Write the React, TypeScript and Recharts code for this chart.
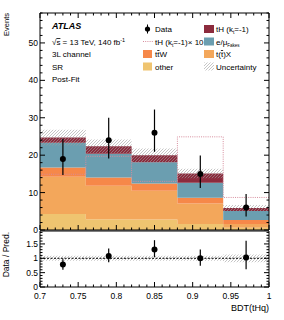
import React from "react";
import {
  ComposedChart,
  Area,
  Line,
  Scatter,
  ErrorBar,
  XAxis,
  YAxis,
  ReferenceLine,
} from "recharts";

// ---------- data ----------
const binEdges = [0.7, 0.76, 0.82, 0.88, 0.94, 1.0];
const binCenters = [0.73, 0.79, 0.85, 0.91, 0.97];

const otherVals = [4.3, 2.9, 2.8, 1.6, 0.6];
const ttXVals = [9.9, 8.9, 7.7, 5.5, 1.0];
const ttWVals = [2.5, 2.2, 1.9, 1.5, 1.1];
const fakesVals = [6.6, 6.4, 5.7, 4.0, 2.4];
const tHVals = [1.4, 2.0, 1.9, 2.5, 0.8];
const uncLow = [22.6, 20.5, 18.2, 13.8, 5.1];
const uncHigh = [26.8, 24.2, 21.8, 16.4, 6.7];
const tH10Vals = [14.9, 19.7, 13.0, 24.9, 8.7];

const dataVals = [19, 24, 26, 15, 6];
const dataErrLo = [4.3, 4.9, 5.1, 3.8, 2.4];
const dataErrHi = [5.4, 6.0, 6.2, 4.9, 3.6];

const ratioVals = [0.78, 1.08, 1.31, 1.0, 1.03];
const ratioErrLo = [0.18, 0.22, 0.27, 0.26, 0.41];
const ratioErrHi = [0.19, 0.26, 0.32, 0.31, 0.58];
const ratioUnc = [0.085, 0.085, 0.09, 0.086, 0.136];

const xMajorTicks = [0.7, 0.75, 0.8, 0.85, 0.9, 0.95, 1.0];
const mainYMajorTicks = [0, 10, 20, 30, 40, 50];
const ratioYMajorTicks = [0, 0.5, 1, 1.5];

// minor tick positions
const xTicks: number[] = [];
for (let i = 0; i <= 30; i++) xTicks.push(Math.round((0.7 + i * 0.01) * 1000) / 1000);
const mainYTicks: number[] = [];
for (let i = 0; i <= 29; i++) mainYTicks.push(i * 2);
const ratioYTicks: number[] = [];
for (let i = 0; i <= 19; i++) ratioYTicks.push(Math.round(i * 10) / 100);

// ---------- tables built from the arrays ----------
const histRows = binEdges.map((x, i) => {
  const j = Math.min(i, binCenters.length - 1);
  return {
    x,
    other: otherVals[j],
    ttX: ttXVals[j],
    ttW: ttWVals[j],
    fakes: fakesVals[j],
    tH: tHVals[j],
    band: [uncLow[j], uncHigh[j]],
    th10: tH10Vals[j],
  };
});
const dataRows = binCenters.map((x, i) => ({
  x,
  y: dataVals[i],
  err: [dataErrLo[i], dataErrHi[i]],
}));
const ratioBandRows = binEdges.map((x, i) => {
  const j = Math.min(i, binCenters.length - 1);
  return { x, band: [1 - ratioUnc[j], 1 + ratioUnc[j]] };
});
const ratioRows = binCenters.map((x, i) => ({
  x,
  y: ratioVals[i],
  err: [ratioErrLo[i], ratioErrHi[i]],
}));

// ---------- styling ----------
const FONT = "'Liberation Sans', Arial, Helvetica, sans-serif";
const C_OTHER = "#efc470";
const C_TTX = "#f3a75b";
const C_TTW = "#f68849";
const C_FAKES = "#6b9eb0";
const C_TH = "#8c2b3d";
const C_TH10 = "#d68c9c";

const near = (v: number, arr: number[]) => arr.some((a) => Math.abs(a - v) < 1e-6);
const fmt = (v: number) => String(Math.round(v * 1000) / 1000);

// dir: +1 tick goes down/right, -1 up/left
const mkXTick = (dir: number, label: boolean) => (props: any) => {
  const { x, y, payload } = props;
  const v = payload.value;
  const major = near(v, xMajorTicks);
  const len = major ? 5 : 2.5;
  return (
    <g>
      <line x1={x} x2={x} y1={y} y2={y + dir * len} stroke="#000" strokeWidth={1} />
      {label && major && (
        <text x={x} y={y + 11.5} textAnchor="middle" fontSize={8.5} fontFamily={FONT} fill="#000">
          {fmt(v)}
        </text>
      )}
    </g>
  );
};
const mkYTick = (dir: number, label: boolean, majors: number[]) => (props: any) => {
  const { x, y, payload } = props;
  const v = payload.value;
  const major = near(v, majors);
  const len = major ? 5 : 2.5;
  return (
    <g>
      <line x1={x} x2={x + dir * len} y1={y} y2={y} stroke="#000" strokeWidth={1} />
      {label && major && (
        <text x={x - 2} y={y + 3} textAnchor="end" fontSize={8.5} fontFamily={FONT} fill="#000">
          {fmt(v)}
        </text>
      )}
    </g>
  );
};

const HatchDef = ({ id }: { id: string }) => (
  <pattern id={id} patternUnits="userSpaceOnUse" width={3} height={3}>
    <line x1={-0.5} y1={3.5} x2={3.5} y2={-0.5} stroke="#a0a0a0" strokeWidth={0.6} />
  </pattern>
);

const Dot = (p: any) => <circle cx={p.cx} cy={p.cy} r={3} fill="#000" />;

const axisLine = { stroke: "#000", strokeWidth: 1 };

const MainChart = () => (
  <ComposedChart
    width={284}
    height={242}
    data={histRows}
    margin={{ top: 0, right: 0, bottom: 0, left: 0 }}
  >
    <defs>
      <HatchDef id="hatchMain" />
    </defs>
    <XAxis
      xAxisId="b"
      dataKey="x"
      type="number"
      domain={[0.7, 1.0]}
      ticks={xTicks}
      interval={0}
      height={12}
      tickSize={0}
      tickMargin={0}
      tickLine={false}
      axisLine={axisLine}
      tick={mkXTick(-1, false)}
      allowDataOverflow
    />
    <XAxis
      xAxisId="t"
      orientation="top"
      dataKey="x"
      type="number"
      domain={[0.7, 1.0]}
      ticks={xTicks}
      interval={0}
      height={13}
      tickSize={0}
      tickMargin={0}
      tickLine={false}
      axisLine={axisLine}
      tick={mkXTick(1, false)}
      allowDataOverflow
    />
    <YAxis
      yAxisId="l"
      type="number"
      domain={[0, 58]}
      ticks={mainYTicks}
      interval={0}
      width={40}
      tickSize={0}
      tickMargin={0}
      tickLine={false}
      axisLine={axisLine}
      tick={mkYTick(1, true, mainYMajorTicks)}
      allowDataOverflow
    />
    <YAxis
      yAxisId="r"
      orientation="right"
      type="number"
      domain={[0, 58]}
      ticks={mainYTicks}
      interval={0}
      width={15}
      tickSize={0}
      tickMargin={0}
      tickLine={false}
      axisLine={axisLine}
      tick={mkYTick(-1, false, mainYMajorTicks)}
      allowDataOverflow
    />
    <Area xAxisId="b" yAxisId="l" type="stepAfter" dataKey="other" stackId="s" fill={C_OTHER} fillOpacity={1} stroke="none" isAnimationActive={false} />
    <Area xAxisId="b" yAxisId="l" type="stepAfter" dataKey="ttX" stackId="s" fill={C_TTX} fillOpacity={1} stroke="none" isAnimationActive={false} />
    <Area xAxisId="b" yAxisId="l" type="stepAfter" dataKey="ttW" stackId="s" fill={C_TTW} fillOpacity={1} stroke="none" isAnimationActive={false} />
    <Area xAxisId="b" yAxisId="l" type="stepAfter" dataKey="fakes" stackId="s" fill={C_FAKES} fillOpacity={1} stroke="none" isAnimationActive={false} />
    <Area xAxisId="b" yAxisId="l" type="stepAfter" dataKey="tH" stackId="s" fill={C_TH} fillOpacity={1} stroke="none" isAnimationActive={false} />
    <Area xAxisId="b" yAxisId="l" type="stepAfter" dataKey="band" fill="url(#hatchMain)" fillOpacity={1} stroke="none" isAnimationActive={false} />
    <Line xAxisId="b" yAxisId="l" type="stepAfter" dataKey="th10" stroke={C_TH10} strokeWidth={1} strokeDasharray="1 1.2" dot={false} isAnimationActive={false} />
    <Scatter xAxisId="b" yAxisId="l" data={dataRows} dataKey="y" shape={Dot} isAnimationActive={false}>
      <ErrorBar dataKey="err" direction="y" width={0} stroke="#000" strokeWidth={1.2} />
    </Scatter>
  </ComposedChart>
);

const RatioChart = () => (
  <ComposedChart
    width={284}
    height={100}
    data={ratioBandRows}
    margin={{ top: 0, right: 0, bottom: 0, left: 0 }}
  >
    <defs>
      <HatchDef id="hatchRatio" />
    </defs>
    <XAxis
      xAxisId="b"
      dataKey="x"
      type="number"
      domain={[0.7, 1.0]}
      ticks={xTicks}
      interval={0}
      height={33}
      tickSize={0}
      tickMargin={0}
      tickLine={false}
      axisLine={axisLine}
      tick={mkXTick(-1, true)}
      allowDataOverflow
    />
    <XAxis
      xAxisId="t"
      orientation="top"
      dataKey="x"
      type="number"
      domain={[0.7, 1.0]}
      height={11}
      tickLine={false}
      axisLine={axisLine}
      tick={false}
      allowDataOverflow
    />
    <YAxis
      yAxisId="l"
      type="number"
      domain={[0, 1.95]}
      ticks={ratioYTicks}
      interval={0}
      width={40}
      tickSize={0}
      tickMargin={0}
      tickLine={false}
      axisLine={axisLine}
      tick={mkYTick(1, true, ratioYMajorTicks)}
      allowDataOverflow
    />
    <YAxis
      yAxisId="r"
      orientation="right"
      type="number"
      domain={[0, 1.95]}
      ticks={ratioYTicks}
      interval={0}
      width={15}
      tickSize={0}
      tickMargin={0}
      tickLine={false}
      axisLine={axisLine}
      tick={mkYTick(-1, false, ratioYMajorTicks)}
      allowDataOverflow
    />
    <Area xAxisId="b" yAxisId="l" type="stepAfter" dataKey="band" fill="url(#hatchRatio)" fillOpacity={1} stroke="none" isAnimationActive={false} />
    <ReferenceLine xAxisId="b" yAxisId="l" y={1} stroke="#000" strokeWidth={1} strokeDasharray="2 1.5" />
    <Scatter xAxisId="b" yAxisId="l" data={ratioRows} dataKey="y" shape={Dot} isAnimationActive={false}>
      <ErrorBar dataKey="err" direction="y" width={0} stroke="#000" strokeWidth={1.2} />
    </Scatter>
  </ComposedChart>
);

const Overlay = () => {
  const rows = [29, 41.5, 54, 66.5];
  const c1Box = 143;
  const c1Text = 155;
  const c2Box = 204;
  const c2Text = 216;
  const fs = 8;
  const txt = { fontSize: fs, fontFamily: FONT, fill: "#000" } as any;
  return (
    <svg width={284} height={320} style={{ position: "absolute", left: 0, top: 0, pointerEvents: "none" }}>
      <defs>
        <HatchDef id="hatchLeg" />
      </defs>
      {/* axis titles */}
      <text {...txt} fontSize={7.5} x={8.5} y={13} textAnchor="end" transform="rotate(-90 8.5 13)">
        Events
      </text>
      <text {...txt} fontSize={8.5} x={8.5} y={232} textAnchor="end" transform="rotate(-90 8.5 232)">
        Data / Pred.
      </text>
      <text {...txt} fontSize={9} x={269} y={311} textAnchor="end">
        BDT(tHq)
      </text>

      {/* ATLAS label block */}
      <text {...txt} fontSize={9} fontWeight="bold" fontStyle="italic" x={52} y={28.5}>
        ATLAS
      </text>
      <text {...txt} x={52} y={45}>
        √<tspan style={{ textDecoration: "overline" }}>s</tspan> = 13 TeV, 140 fb
        <tspan dy={-3} fontSize={5.5}>-1</tspan>
      </text>
      <text {...txt} x={52} y={57}>3L channel</text>
      <text {...txt} x={52} y={69.5}>SR</text>
      <text {...txt} x={52} y={82}>Post-Fit</text>

      {/* legend column 1 */}
      <line x1={147.5} x2={147.5} y1={rows[0] - 4.5} y2={rows[0] + 4.5} stroke="#000" strokeWidth={1} />
      <circle cx={147.5} cy={rows[0]} r={2.6} fill="#000" />
      <text {...txt} x={c1Text} y={rows[0] + 3}>Data</text>

      <line x1={c1Box} x2={c1Box + 10} y1={rows[1]} y2={rows[1]} stroke={C_TH10} strokeWidth={1} strokeDasharray="1 1.2" />
      <text {...txt} x={c1Text} y={rows[1] + 3}>
        tH (k<tspan dy={2} fontSize={5}>t</tspan>
        <tspan dy={-2}>=-1)× 10</tspan>
      </text>

      <rect x={c1Box} y={rows[2] - 4} width={9} height={8} fill={C_TTW} />
      <text {...txt} x={c1Text} y={rows[2] + 3}>
        t<tspan style={{ textDecoration: "overline" }}>t</tspan>W
      </text>

      <rect x={c1Box} y={rows[3] - 4} width={9} height={8} fill={C_OTHER} />
      <text {...txt} x={c1Text} y={rows[3] + 3}>other</text>

      {/* legend column 2 */}
      <rect x={c2Box} y={rows[0] - 4} width={10} height={8} fill={C_TH} />
      <text {...txt} x={c2Text} y={rows[0] + 3}>
        tH (k<tspan dy={2} fontSize={5}>t</tspan>
        <tspan dy={-2}>=-1)</tspan>
      </text>

      <rect x={c2Box} y={rows[1] - 4} width={10} height={8} fill={C_FAKES} />
      <text {...txt} x={c2Text} y={rows[1] + 3}>
        e/μ<tspan dy={2.5} fontSize={4.5}>Fakes</tspan>
      </text>

      <rect x={c2Box} y={rows[2] - 4} width={10} height={8} fill={C_TTX} />
      <text {...txt} x={c2Text} y={rows[2] + 3}>
        t(<tspan style={{ textDecoration: "overline" }}>t</tspan>)X
      </text>

      <rect x={c2Box} y={rows[3] - 4} width={10} height={8} fill="url(#hatchLeg)" />
      <text {...txt} x={c2Text} y={rows[3] + 3}>Uncertainty</text>
    </svg>
  );
};

export default function App() {
  return (
    <div
      style={{
        position: "absolute",
        left: 0,
        top: 0,
        width: 284,
        height: 320,
        background: "#fff",
        fontFamily: FONT,
        overflow: "hidden",
      }}
    >
      <div style={{ position: "absolute", left: 0, top: 0 }}>
        <MainChart />
      </div>
      <div style={{ position: "absolute", left: 0, top: 220 }}>
        <RatioChart />
      </div>
      <Overlay />
    </div>
  );
}
